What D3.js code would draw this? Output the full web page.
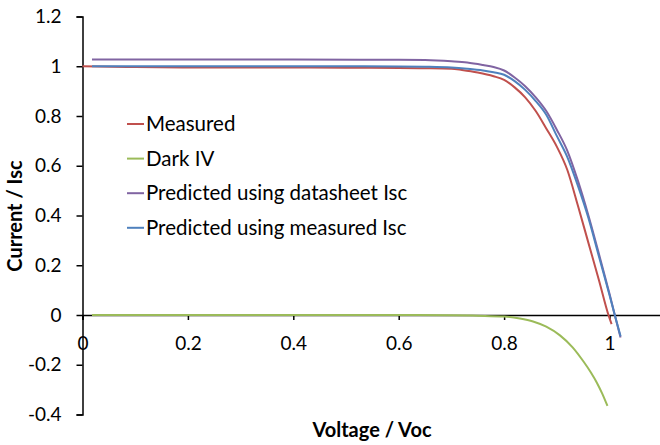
<!DOCTYPE html>
<html>
<head>
<meta charset="utf-8">
<script src="https://cdn.jsdelivr.net/npm/d3@7"></script>
<style>
	body { margin: 0; background: #fff; }
	svg { display: block; font-family: Lato, "Open Sans", sans-serif; }
</style>
</head>
<body>
<div class="chart"></div>
<script>
	// series (x = V/Voc, y = I/Isc)
	var measuredV = [0, 0.1, 0.2, 0.3, 0.4, 0.5, 0.6, 0.65, 0.7, 0.72, 0.75, 0.78, 0.8, 0.82, 0.84, 0.86, 0.88, 0.9, 0.92, 0.94, 0.96, 0.98, 0.998, 1.004],
		measuredI = [1.0, 0.997, 0.995, 0.995, 0.995, 0.994, 0.993, 0.992, 0.99, 0.985, 0.975, 0.96, 0.945, 0.915, 0.875, 0.82, 0.75, 0.677, 0.583, 0.44, 0.29, 0.14, 0.0, -0.037];

	var darkV = [0.018, 0.1, 0.2, 0.3, 0.4, 0.5, 0.6, 0.7, 0.75, 0.8, 0.83, 0.855, 0.88, 0.906, 0.93, 0.95, 0.965, 0.976, 0.986, 0.996],
		darkI = [0, 0, 0, 0, 0, 0, 0, -0.001, -0.003, -0.006, -0.014, -0.026, -0.047, -0.082, -0.13, -0.185, -0.232, -0.272, -0.315, -0.365];

	var sheetV = [0.018, 0.2, 0.4, 0.6, 0.65, 0.7, 0.73, 0.76, 0.78, 0.8, 0.82, 0.84, 0.86, 0.88, 0.9, 0.92, 0.94, 0.96, 0.98, 1.0, 1.01, 1.021],
		sheetI = [1.027, 1.027, 1.027, 1.026, 1.025, 1.02, 1.015, 1.005, 0.997, 0.983, 0.955, 0.92, 0.875, 0.82, 0.745, 0.66, 0.54, 0.4, 0.245, 0.085, 0.0, -0.09];

	var measIscV = [0.018, 0.1, 0.2, 0.3, 0.4, 0.5, 0.6, 0.65, 0.7, 0.73, 0.76, 0.78, 0.8, 0.82, 0.84, 0.86, 0.88, 0.9, 0.92, 0.94, 0.96, 0.98, 1.0, 1.01, 1.021],
		measIscI = [1.0, 1.0, 1.0, 1.0, 1.0, 1.0, 0.999, 0.998, 0.995, 0.99, 0.983, 0.976, 0.966, 0.94, 0.905, 0.86, 0.805, 0.72, 0.635, 0.52, 0.39, 0.235, 0.08, 0.0, -0.085];

	var seriesNames = ["Measured", "Dark IV", "Predicted using datasheet Isc", "Predicted using measured Isc"],
		seriesColors = ["#c0504d", "#9bbb59", "#8064a2", "#4f81bd"];

	var xTicks = [0, 0.2, 0.4, 0.6, 0.8, 1],
		yTicks = [-0.4, -0.2, 0, 0.2, 0.4, 0.6, 0.8, 1, 1.2];

	var width = 660,
		height = 445;

	var x = d3.scaleLinear().domain([0, 1.1]).range([82.5, 662.2]),
		y = d3.scaleLinear().domain([-0.4, 1.2]).range([414.5, 16.5]);

	var svg = d3.select(".chart").append("svg")
		.attr("width", width)
		.attr("height", height);

	// zip the V and I arrays into points
	function zip(vs, is) {
		return vs.map(function(v, i) { return [v, is[i]]; });
	}
	var series = [zip(measuredV, measuredI), zip(darkV, darkI), zip(sheetV, sheetI), zip(measIscV, measIscI)];

	// excel style labels: plain hyphen for minus
	function fmt(d) { return String(+d.toFixed(1)); }

	// y axis at x = 0
	var yAxis = d3.axisLeft(y).tickValues(yTicks).tickSize(6).tickPadding(15).tickFormat(fmt);
	var gy = svg.append("g")
		.attr("transform", "translate(" + x(0) + ",0)")
		.call(yAxis);

	// x axis at y = 0
	var xAxis = d3.axisBottom(x).tickValues(xTicks).tickSize(5).tickPadding(17).tickFormat(fmt);
	var gx = svg.append("g")
		.attr("transform", "translate(0," + y(0) + ")")
		.call(xAxis);

	[gx, gy].forEach(function(g) {
		g.select(".domain").attr("stroke", "#000").attr("stroke-width", 1.5);
		g.selectAll(".tick line").attr("stroke", "#000").attr("stroke-width", 1.5);
		g.selectAll(".tick text").attr("fill", "#000").style("font-size", "19px").style("font-family", "Lato, sans-serif");
	});

	// lines
	var line = d3.line()
		.x(function(d) { return x(d[0]); })
		.y(function(d) { return y(d[1]); })
		.curve(d3.curveMonotoneX);

	svg.selectAll("path.series")
		.data(series).enter()
		.append("path")
		.attr("class", "series")
		.attr("fill", "none")
		.attr("stroke", function(d, i) { return seriesColors[i]; })
		.attr("stroke-width", 2)
		.attr("d", line);

	// legend
	var legend = svg.selectAll("g.legend")
		.data(seriesNames).enter()
		.append("g")
		.attr("class", "legend")
		.attr("transform", function(d, i) { return "translate(127," + (124 + 34.6 * i) + ")"; });

	legend.append("line")
		.attr("x1", 0).attr("x2", 17)
		.attr("stroke", function(d, i) { return seriesColors[i]; })
		.attr("stroke-width", 2);

	legend.append("text")
		.attr("x", 19)
		.attr("dy", "0.35em")
		.style("font-size", "20.5px")
		.attr("fill", "#000")
		.text(function(d) { return d; });

	// axis titles
	svg.append("text")
		.attr("x", 372)
		.attr("y", 437)
		.attr("text-anchor", "middle")
		.style("font-size", "20px")
		.style("font-weight", "bold")
		.text("Voltage / Voc");

	svg.append("text")
		.attr("transform", "translate(22,216) rotate(-90)")
		.attr("text-anchor", "middle")
		.style("font-size", "20px")
		.style("font-weight", "bold")
		.text("Current / Isc");
</script>
</body>
</html>
